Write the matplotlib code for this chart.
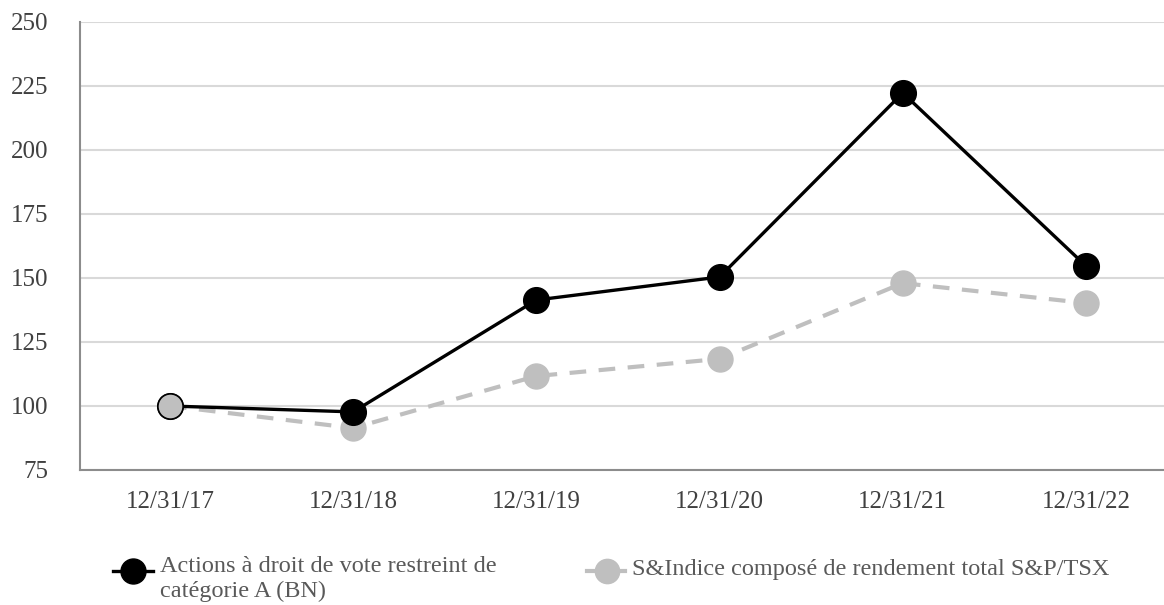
import matplotlib
matplotlib.use("Agg")
import matplotlib.pyplot as plt
from matplotlib.lines import Line2D

categories = ["12/31/17", "12/31/18", "12/31/19", "12/31/20", "12/31/21", "12/31/22"]
bn_values = [100.0, 97.7, 141.4, 150.4, 222.3, 154.7]
tsx_values = [100.0, 91.4, 111.7, 118.4, 148.0, 140.2]
y_ticks = [75, 100, 125, 150, 175, 200, 225, 250]
bn_label = "Actions à droit de vote restreint de\ncatégorie A (BN)"
tsx_label = "S&Indice composé de rendement total S&P/TSX"

plt.rcParams['font.family'] = ['Liberation Serif', 'DejaVu Serif']

W, H = 1164, 605
fig = plt.figure(figsize=(W / 100, H / 100), dpi=100)
ax = fig.add_axes([80 / W, (H - 470) / H, (W - 80) / W, (470 - 22) / H])

GREY = "#bfbfbf"
x = list(range(len(categories)))
ax.plot(x, tsx_values, color=GREY, lw=3.0, dashes=(4, 3), marker="o",
        markersize=18, markerfacecolor=GREY, markeredgecolor=GREY, zorder=3)
ax.plot(x, bn_values, color="black", lw=2.4, marker="o",
        markersize=18.5, markerfacecolor="black", markeredgecolor="black", zorder=4)
# first point: grey marker drawn on top
ax.plot(x[:1], tsx_values[:1], ls="none", marker="o", markersize=18,
        markerfacecolor=GREY, markeredgecolor="black", markeredgewidth=1.0, zorder=5)

ax.set_xlim(-0.491, 5.426)
ax.set_ylim(75, 250)
ax.set_xticks(x)
ax.set_xticklabels(categories)
ax.set_yticks(y_ticks)
ax.yaxis.grid(True, color="#d9d9d9", lw=1.5)
ax.set_axisbelow(True)
ax.tick_params(axis="both", length=0, labelsize=18, labelcolor="#404040")
ax.tick_params(axis="y", pad=23)
ax.tick_params(axis="x", pad=15)
for s in ["top", "right"]:
    ax.spines[s].set_visible(False)
ax.spines["left"].set_color("#8c8c8c")
ax.spines["left"].set_linewidth(1.5)
ax.spines["bottom"].set_color("#8c8c8c")
ax.spines["bottom"].set_linewidth(1.5)

def fx(px):
    return px / W

def fy(py):
    return (H - py) / H

# manual legend (both entries on the same row)
ROW = 571
fig.add_artist(Line2D([fx(113), fx(153)], [fy(ROW), fy(ROW)], color="black", lw=2.4,
                      transform=fig.transFigure))
fig.add_artist(Line2D([fx(132.5)], [fy(ROW)], ls="none", marker="o", markersize=18,
                      color="black", transform=fig.transFigure))
fig.text(fx(160), fy(ROW - 15), bn_label, fontsize=17.5, color="#595959", va="top",
         ha="left", linespacing=1.24)

fig.add_artist(Line2D([fx(587), fx(625)], [fy(ROW), fy(ROW)], color=GREY, lw=3.0,
                      transform=fig.transFigure))
fig.add_artist(Line2D([fx(607)], [fy(ROW)], ls="none", marker="o", markersize=17.5,
                      color=GREY, transform=fig.transFigure))
fig.text(fx(632), fy(ROW - 1), tsx_label, fontsize=17.5, color="#595959", va="center",
         ha="left")

fig.savefig("out.png", dpi=100)
